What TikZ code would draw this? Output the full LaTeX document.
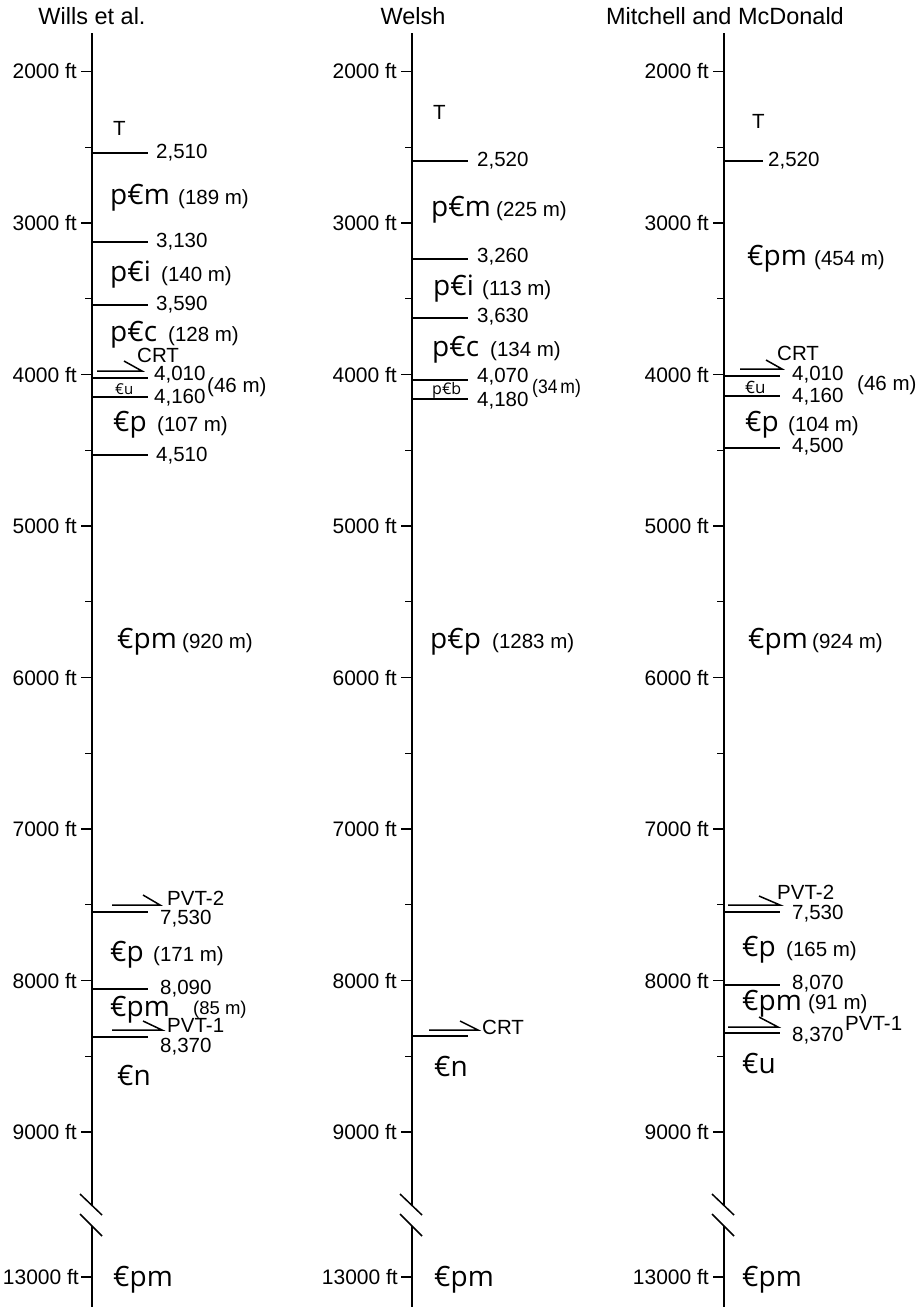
\documentclass[tikz,border=0pt]{standalone}
\usepackage{fontspec}
\setmainfont{Liberation Sans}
\newfontfamily\fmfont{Open Sans}
\begin{document}
\begin{tikzpicture}[x=1pt,y=-1pt,
  axisline/.style={line width=2pt},
  tickline/.style={line width=1.2pt},
  contact/.style={line width=1.8pt},
  faultline/.style={line width=1.5pt},
  ttl/.style={inner sep=0pt,font=\fontsize{23.5}{27}\selectfont},
  ftlab/.style={inner sep=0pt,anchor=east,font=\fontsize{21}{25}\selectfont},
  lab/.style={inner sep=0pt,anchor=west,font=\fontsize{20.5}{24}\selectfont},
  meters/.style={inner sep=0pt,anchor=base west,font=\fontsize{20.5}{24}\selectfont},
  fm/.style={inner sep=0pt,anchor=base west,font=\fmfont\fontsize{28}{32}\selectfont},
  fmsmall/.style={inner sep=0pt,anchor=west,font=\fmfont\fontsize{15}{18}\selectfont},
]
\useasboundingbox (0,0) rectangle (922,1307);

% ---------- axes, ticks, breaks ----------
\foreach \ax/\nm in {92/A,412/B,724/C}{
  \coordinate (\nm top) at (\ax,33);
  \coordinate (\nm b1) at (\ax,1205.5);
  \coordinate (\nm b2) at (\ax,1225.5);
  \coordinate (\nm bot) at (\ax,1307);
  \draw[axisline] (\nm top) -- (\nm b1);
  \draw[axisline] (\nm b2) -- (\nm bot);
  \draw[faultline] (\ax-12,1194) -- (\ax+10,1215);
  \draw[faultline] (\ax-12,1214) -- (\ax+10,1236);
  \foreach \k in {0,...,7}{
    \draw[tickline] (\ax-11,71.5+151.5*\k) -- (\ax,71.5+151.5*\k);
    \pgfmathtruncatemacro{\ft}{2000+1000*\k}
    \node[ftlab] (\nm ft\k) at (\ax-15,71.5+151.5*\k) {\ft\ ft};
  }
  \foreach \k in {0,...,6}{
    \draw[tickline] (\ax-7,147.25+151.5*\k) -- (\ax,147.25+151.5*\k);
  }
  \draw[tickline] (\ax-11,1277) -- (\ax,1277);
}
\node[ftlab] (Aft13) at (79,1277) {13000 ft};
\node[ftlab] (Bft13) at (398,1277) {13000 ft};
\node[ftlab] (Cft13) at (709,1277) {13000 ft};

% ---------- titles ----------
\node[ttl] (tA) at (92,16) {Wills et al.};
\node[ttl] (tB) at (413,16) {Welsh};
\node[ttl] (tC) at (725,16) {Mitchell and McDonald};

% ================= Wills et al. =================
\node[lab] (AT) at (113,128) {T};
\draw[contact] (92,153) -- (148,153);
\node[lab] (A2510) at (156,153) {2,510};
\node[fm] (Apcm) at (110,204) {p€m};
\node[meters] (Apcmm) at (178,204) {(189 m)};
\draw[contact] (92,242) -- (148,242);
\node[lab] (A3130) at (156,242) {3,130};
\node[fm] (Apci) at (110,281) {p€i};
\node[meters] (Apcim) at (161,281) {(140 m)};
\draw[contact] (92,305) -- (148,305);
\node[lab] (A3590) at (156,305) {3,590};
\node[fm] (Apcc) at (110,341) {p€c};
\node[meters] (Apccm) at (168,341) {(128 m)};
\draw[faultline] (97,371) -- (142,371) -- (124,361);
\node[lab] (ACRT) at (137,355) {CRT};
\draw[contact] (92,378) -- (148,378);
\node[lab] (A4010) at (154,375) {4,010};
\node[fmsmall] (Acu) at (115,389) {€u};
\node[lab] (A46) at (207,387) {(46 m)};
\draw[contact] (92,397) -- (148,397);
\node[lab] (A4160) at (154,398) {4,160};
\node[fm] (Acp) at (113,431) {€p};
\node[meters] (Acpm) at (157,431) {(107 m)};
\draw[contact] (92,455) -- (148,455);
\node[lab] (A4510) at (156,456) {4,510};
\node[fm] (Acpm1) at (117,648) {€pm};
\node[meters] (Acpm1m) at (182,648) {(920 m)};
\draw[faultline] (112,905) -- (160,905) -- (143,895);
\node[lab] (APVT2) at (167,898) {PVT-2};
\draw[contact] (92,912) -- (148,912);
\node[lab] (A7530) at (160,919) {7,530};
\node[fm] (Acp2) at (110,961) {€p};
\node[meters] (Acp2m) at (153,961) {(171 m)};
\draw[contact] (92,989) -- (148,989);
\node[lab] (A8090) at (160,989) {8,090};
\node[fm] (Acpm2) at (110,1016) {€pm};
\node[lab,font=\fontsize{18.5}{22}\selectfont] (Acpm2m) at (193,1010) {(85 m)};
\draw[faultline] (112,1030) -- (162,1030) -- (143,1021);
\node[lab] (APVT1) at (167,1025) {PVT-1};
\draw[contact] (92,1037) -- (148,1037);
\node[lab] (A8370) at (160,1047) {8,370};
\node[fm] (Acn) at (117,1085) {€n};
\node[fm] (Acpm3) at (113,1286) {€pm};

% ================= Welsh =================
\node[lab] (BT) at (433,112) {T};
\draw[contact] (412,161) -- (468,161);
\node[lab] (B2520) at (477,161) {2,520};
\node[fm] (Bpcm) at (431,216) {p€m};
\node[meters] (Bpcmm) at (496,216) {(225 m)};
\draw[contact] (412,259) -- (468,259);
\node[lab] (B3260) at (477,257) {3,260};
\node[fm] (Bpci) at (433,295) {p€i};
\node[meters] (Bpcim) at (482,295) {(113 m)};
\draw[contact] (412,318) -- (468,318);
\node[lab] (B3630) at (477,317) {3,630};
\node[fm] (Bpcc) at (432,356) {p€c};
\node[meters] (Bpccm) at (490,356) {(134 m)};
\draw[contact] (412,380) -- (468,380);
\node[lab] (B4070) at (477,377) {4,070};
\node[fmsmall,font=\fmfont\fontsize{16}{19}\selectfont] (Bpcb) at (432,390) {p€b};
\node[lab,font=\fontsize{19.5}{22}\selectfont,xscale=0.9] (B34) at (532,388) {(34\,m)};
\draw[contact] (412,399) -- (468,399);
\node[lab] (B4180) at (477,401) {4,180};
\node[fm] (Bpcp) at (430,648) {p€p};
\node[meters] (Bpcpm) at (492,648) {(1283 m)};
\draw[faultline] (429,1030) -- (478,1030) -- (460,1021);
\node[lab] (BCRT) at (482,1027) {CRT};
\draw[contact] (412,1036) -- (468,1036);
\node[fm] (Bcn) at (434,1076) {€n};
\node[fm] (Bcpm) at (434,1286) {€pm};

% ================= Mitchell and McDonald =================
\node[lab] (CT) at (752,121) {T};
\draw[contact] (724,161) -- (763,161);
\node[lab] (C2520) at (768,161) {2,520};
\node[fm] (Ccpm) at (747,265) {€pm};
\node[meters] (Ccpmm) at (814,265) {(454 m)};
\draw[faultline] (740,369) -- (782,369) -- (766,360);
\node[lab] (CCRT) at (777,353) {CRT};
\draw[contact] (724,376) -- (780,376);
\node[lab] (C4010) at (792,375) {4,010};
\node[fmsmall,font=\fmfont\fontsize{17}{20}\selectfont] (Ccu) at (745,387) {€u};
\node[lab] (C46) at (857,385) {(46 m)};
\draw[contact] (724,396) -- (780,396);
\node[lab] (C4160) at (792,397) {4,160};
\node[fm] (Ccp) at (745,431) {€p};
\node[meters] (Ccpm) at (788,431) {(104 m)};
\draw[contact] (724,448) -- (780,448);
\node[lab] (C4500) at (792,447) {4,500};
\node[fm] (Ccpm2) at (748,648) {€pm};
\node[meters] (Ccpm2m) at (812,648) {(924 m)};
\draw[faultline] (728,905) -- (780,905) -- (759,896);
\node[lab] (CPVT2) at (777,892) {PVT-2};
\draw[contact] (724,912) -- (780,912);
\node[lab] (C7530) at (792,914) {7,530};
\node[fm] (Ccp2) at (742,956) {€p};
\node[meters] (Ccp2m) at (786,956) {(165 m)};
\draw[contact] (724,985) -- (780,985);
\node[lab] (C8070) at (792,984) {8,070};
\node[fm] (Ccpm3) at (742,1010) {€pm};
\node[lab] (Ccpm3m) at (808,1004) {(91 m)};
\draw[faultline] (728,1027) -- (778,1027) -- (759,1017);
\node[lab] (CPVT1) at (845,1023) {PVT-1};
\draw[contact] (724,1033) -- (780,1033);
\node[lab] (C8370) at (792,1036) {8,370};
\node[fm] (Ccu2) at (742,1073) {€u};
\node[fm] (Ccpm4) at (742,1286) {€pm};
\end{tikzpicture}
\end{document}
